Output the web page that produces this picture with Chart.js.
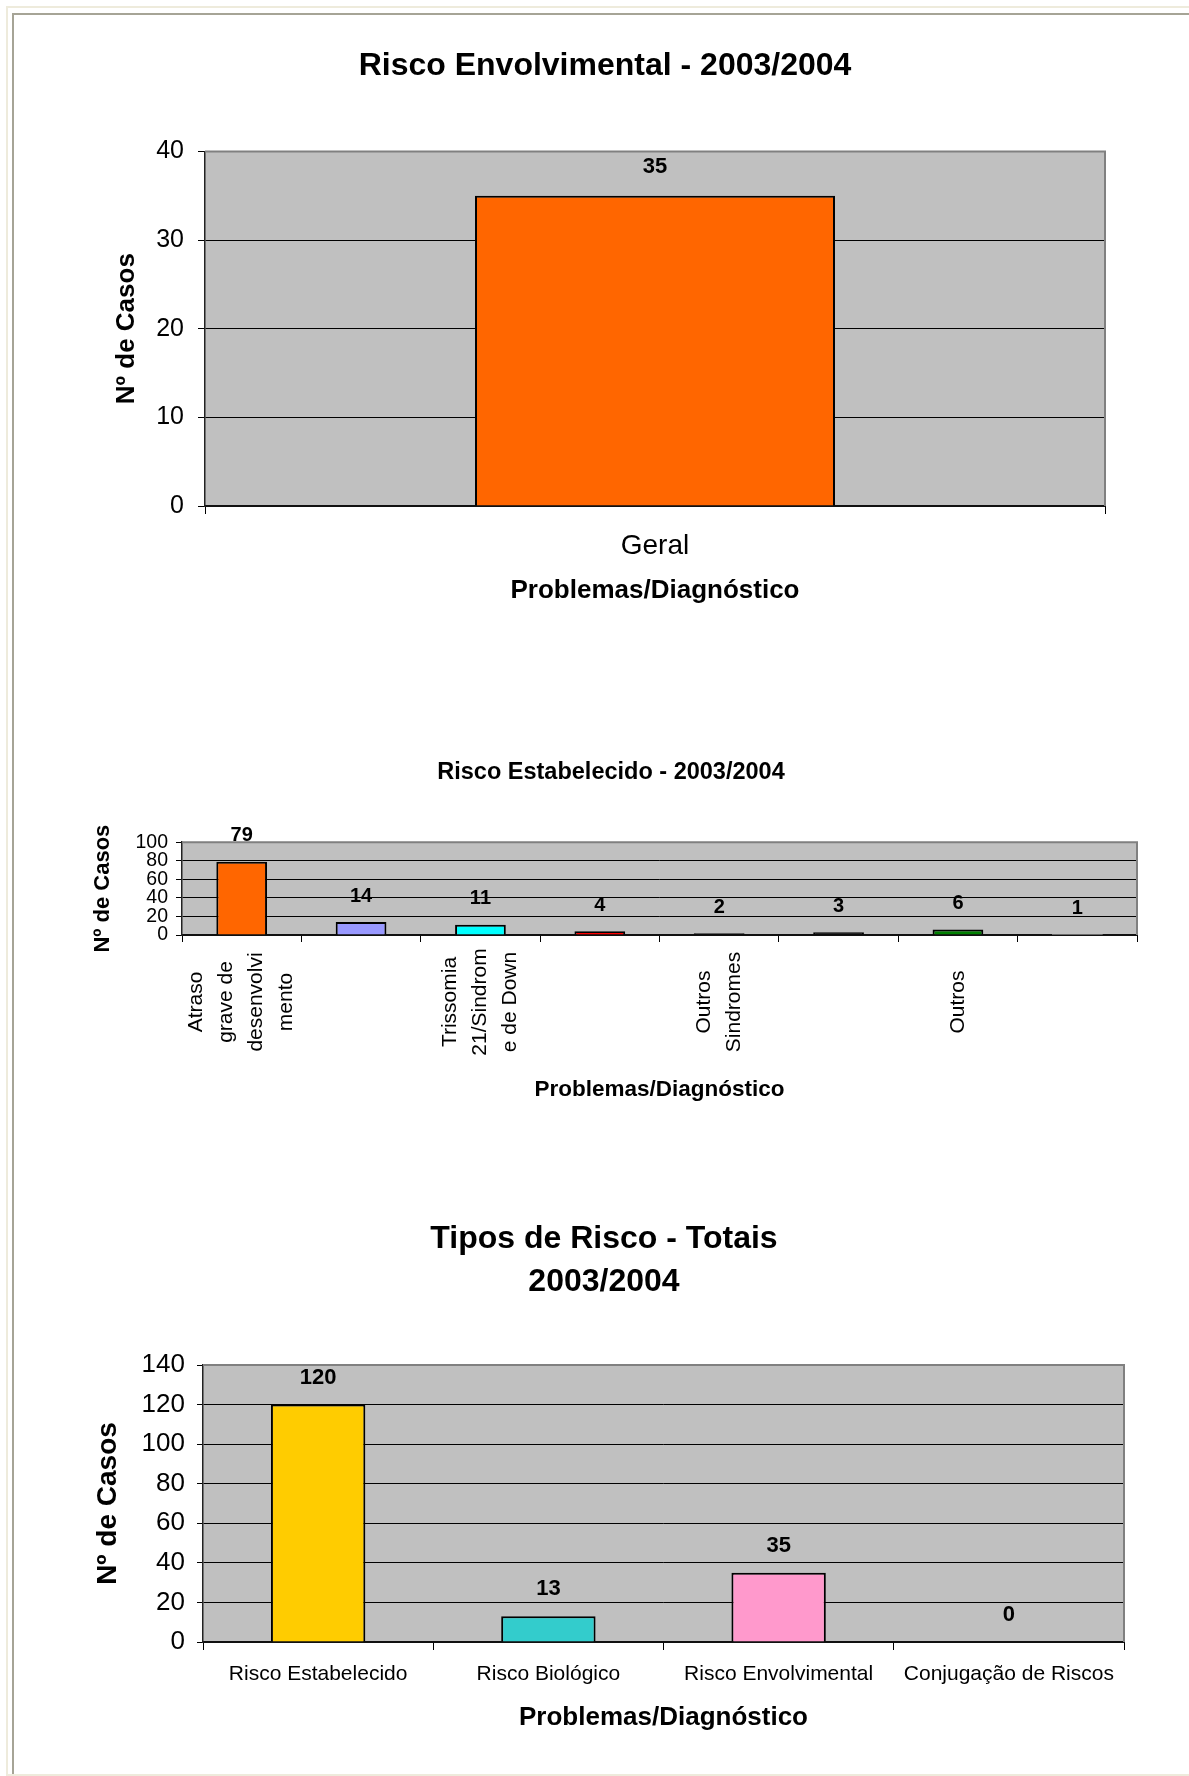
<!DOCTYPE html>
<html lang="pt">
<head>
<meta charset="utf-8">
<title>Risco 2003/2004</title>
<script src="https://cdn.jsdelivr.net/npm/chart.js@4.4.1/dist/chart.umd.min.js"></script>
<style>
    body { margin: 0; background: #ffffff; }
    #page { position: relative; width: 1189px; height: 1776px; overflow: hidden; background: #ffffff; }
    .line { position: absolute; }
    canvas { position: absolute; left: 0; }
</style>
</head>
<body>
<div id="page">
    <div class="line" style="left:6px;top:6px;width:1183px;height:2px;background:#eeebdc"></div>
    <div class="line" style="left:6px;top:6px;width:2px;height:1770px;background:#eeebdc"></div>
    <div class="line" style="left:6px;top:1774px;width:1183px;height:2px;background:#eeebdc"></div>
    <div class="line" style="left:12px;top:13px;width:1177px;height:2px;background:#a6a496"></div>
    <div class="line" style="left:12px;top:13px;width:2px;height:1761px;background:#a6a496"></div>

    <canvas id="chartEnv" width="1189" height="640" style="top:0px"></canvas>
    <canvas id="chartEst" width="1189" height="480" style="top:640px"></canvas>
    <canvas id="chartTot" width="1189" height="656" style="top:1120px"></canvas>
</div>

<script>
const FONT = "'Liberation Sans', Arial, sans-serif";

// Risco Envolvimental
const envCategories = ["Geral"];
const envValues = [35];
const envColors = ["#FF6600"];
const envTicks = [0, 10, 20, 30, 40];

// Risco Estabelecido (só metade das categorias tem legenda no eixo)
const estCategories = [
    ["Atraso", "grave de", "desenvolvi", "mento"],
    [],
    ["Trissomia", "21/Sindrom", "e de Down"],
    [],
    ["Outros", "Sindromes"],
    [],
    ["Outros"],
    []
];
const estValues = [79, 14, 11, 4, 2, 3, 6, 1];
const estColors = ["#FF6600", "#9999FF", "#00FFFF", "#FF0000", "#000000", "#000000", "#008000", "#C0C0C0"];
const estBorders = [2, 2, 2, 2, 2, 2, 2, 0];
const estTicks = [0, 20, 40, 60, 80, 100];

// Tipos de Risco - Totais
const totCategories = ["Risco Estabelecido", "Risco Biológico", "Risco Envolvimental", "Conjugação de Riscos"];
const totValues = [120, 13, 35, 0];
const totColors = ["#FFCC00", "#33CCCC", "#FF99CC", "#FFFFFF"];
const totTicks = [0, 20, 40, 60, 80, 100, 120, 140];

// Fundo cinzento da área do gráfico e moldura superior/direita
const plotFrame = {
    id: "plotFrame",
    beforeDraw(chart) {
        const a = chart.chartArea;
        const ctx = chart.ctx;
        ctx.save();
        ctx.fillStyle = "#C0C0C0";
        ctx.fillRect(a.left, a.top, a.right - a.left, a.bottom - a.top);
        ctx.restore();
    },
    beforeDatasetsDraw(chart) {
        const a = chart.chartArea;
        const ctx = chart.ctx;
        ctx.save();
        ctx.strokeStyle = "#808080";
        ctx.lineWidth = 2;
        ctx.beginPath();
        ctx.moveTo(a.left, a.top);
        ctx.lineTo(a.right, a.top);
        ctx.lineTo(a.right, a.bottom);
        ctx.stroke();
        ctx.restore();
    }
};

// Valor escrito por cima de cada barra
const valueLabels = {
    id: "valueLabels",
    defaults: { size: 20, offset: 26 },
    afterDatasetsDraw(chart, args, opts) {
        const ctx = chart.ctx;
        const meta = chart.getDatasetMeta(0);
        const data = chart.data.datasets[0].data;
        ctx.save();
        ctx.font = "bold " + opts.size + "px " + FONT;
        ctx.fillStyle = "#000000";
        ctx.textAlign = "center";
        ctx.textBaseline = "middle";
        meta.data.forEach((bar, i) => {
            ctx.fillText(String(data[i]), bar.x, bar.y - opts.offset);
        });
        ctx.restore();
    }
};

Chart.register(plotFrame, valueLabels);

// Legendas verticais em várias linhas, centradas em cada categoria
const stackedLabels = {
    id: "stackedLabels",
    afterDraw(chart, args, opts) {
        const xScale = chart.scales.x;
        const ctx = chart.ctx;
        const centerY = xScale.top + opts.offset;
        ctx.save();
        ctx.font = opts.size + "px " + FONT;
        ctx.fillStyle = "#000000";
        ctx.textAlign = "center";
        ctx.textBaseline = "middle";
        chart.data.labels.forEach((lines, i) => {
            const cx = xScale.getPixelForValue(i);
            lines.forEach((line, j) => {
                ctx.save();
                ctx.translate(cx + (j - (lines.length - 1) / 2) * opts.lineGap, centerY);
                ctx.rotate(-Math.PI / 2);
                ctx.fillText(line, 0, 0);
                ctx.restore();
            });
        });
        ctx.restore();
    }
};

function createBarChart(canvasId, o) {
    const ctx = document.getElementById(canvasId).getContext("2d");
    return new Chart(ctx, {
        type: "bar",
        data: {
            labels: o.labels,
            datasets: [{
                data: o.values,
                backgroundColor: o.colors,
                borderColor: "#000000",
                borderWidth: o.borders || 2,
                barPercentage: o.barPct,
                categoryPercentage: 1
            }]
        },
        plugins: o.plugins || [],
        options: {
            responsive: false,
            animation: false,
            layout: { padding: { left: o.padLeft, right: o.padRight, top: 0, bottom: 0 } },
            plugins: {
                legend: { display: false },
                tooltip: { enabled: false },
                title: {
                    display: true,
                    text: o.title,
                    color: "#000000",
                    font: { family: FONT, size: o.titleSize, weight: "bold", lineHeight: o.titleLine || 1.2 },
                    padding: o.titlePad
                },
                valueLabels: { size: o.valueSize, offset: o.valueOffset },
                stackedLabels: o.stacked || {}
            },
            scales: {
                x: {
                    afterFit: s => { s.height = o.xHeight; },
                    grid: { display: true, drawOnChartArea: false, drawTicks: true, tickLength: o.xTickLen, color: "#000000" },
                    border: { color: "#111111", width: 2 },
                    ticks: {
                        display: o.xTicksShown,
                        color: "#000000",
                        font: { family: FONT, size: o.xTickSize },
                        padding: o.xTickPad,
                        maxRotation: 0,
                        autoSkip: false
                    },
                    title: {
                        display: true,
                        text: "Problemas/Diagnóstico",
                        color: "#000000",
                        font: { family: FONT, size: o.xTitleSize, weight: "bold" },
                        padding: { top: 0, bottom: o.xTitlePad }
                    }
                },
                y: {
                    min: o.ticks[0],
                    max: o.ticks[o.ticks.length - 1],
                    afterFit: s => { s.width = o.yWidth; },
                    afterBuildTicks: s => { s.ticks = o.ticks.map(v => ({ value: v })); },
                    grid: { color: "#000000", lineWidth: 1, drawTicks: true, tickLength: o.yTickLen },
                    border: { color: "#222222", width: 1.5 },
                    ticks: {
                        color: "#000000",
                        font: { family: FONT, size: o.yTickSize },
                        padding: o.yTickPad,
                        autoSkip: false
                    },
                    title: {
                        display: true,
                        text: "Nº de Casos",
                        color: "#000000",
                        font: { family: FONT, size: o.yTitleSize, weight: "bold" },
                        padding: { top: o.yTitlePad, bottom: 0 }
                    }
                }
            }
        }
    });
}

createBarChart("chartEnv", {
    title: "Risco Envolvimental - 2003/2004",
    labels: envCategories, values: envValues, colors: envColors, ticks: envTicks,
    barPct: 0.40, padLeft: 105, padRight: 84,
    titleSize: 32, titlePad: { top: 47, bottom: 66 },
    xHeight: 134, xTickLen: 8, xTicksShown: true, xTickSize: 28, xTickPad: 15,
    xTitleSize: 26, xTitlePad: 34,
    yWidth: 100, yTickLen: 7, yTickSize: 25, yTickPad: 14,
    yTitleSize: 26, yTitlePad: 6,
    valueSize: 22, valueOffset: 29
});

createBarChart("chartEst", {
    title: "Risco Estabelecido - 2003/2004",
    labels: estCategories, values: estValues, colors: estColors, borders: estBorders, ticks: estTicks,
    barPct: 0.425, padLeft: 85, padRight: 52,
    titleSize: 23.5, titlePad: { top: 118, bottom: 56 },
    xHeight: 185, xTickLen: 7, xTicksShown: false, xTickSize: 21, xTickPad: 10,
    xTitleSize: 22.5, xTitlePad: 17,
    yWidth: 97, yTickLen: 6, yTickSize: 19.5, yTickPad: 8,
    yTitleSize: 22, yTitlePad: 5,
    valueSize: 20, valueOffset: 26,
    plugins: [stackedLabels],
    stacked: { size: 21, lineGap: 30, offset: 67 }
});

createBarChart("chartTot", {
    title: ["Tipos de Risco - Totais", "2003/2004"],
    labels: totCategories, values: totValues, colors: totColors, ticks: totTicks,
    barPct: 0.41, padLeft: 84, padRight: 65,
    titleSize: 32, titleLine: 1.344, titlePad: { top: 98, bottom: 61 },
    xHeight: 134, xTickLen: 8, xTicksShown: true, xTickSize: 21, xTickPad: 12,
    xTitleSize: 26, xTitlePad: 43,
    yWidth: 119, yTickLen: 6, yTickSize: 26, yTickPad: 12,
    yTitleSize: 28, yTitlePad: 7,
    valueSize: 22, valueOffset: 27
});
</script>
</body>
</html>
